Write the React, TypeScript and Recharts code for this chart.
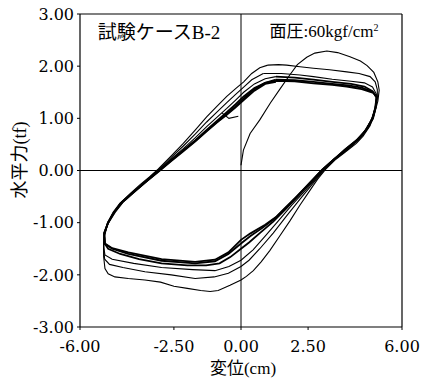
import React from 'react';
import { LineChart, Line, XAxis, YAxis, ReferenceLine } from 'recharts';

type P = [number, number];

const xTicks = [-6, -2.5, 0, 2.5, 6];
const yTicks = [-3, -2, -1, 0, 1, 2, 3];

const loop1: P[] = [[0.0,0.1],[0.09,0.39],[0.34,0.71],[0.7,0.97],[1.1,1.3],[1.45,1.56],[1.83,1.84],[2.1,2.03],[2.45,2.17],[2.75,2.25],[3.2,2.29],[3.6,2.26],[4.06,2.18],[4.45,2.1],[4.7,2.01],[4.95,1.88],[5.1,1.7],[5.15,1.54],[5.1,1.33],[4.98,1.1],[4.81,0.86],[4.55,0.66],[4.3,0.52],[3.9,0.36],[3.5,0.2],[3.15,0.02],[2.85,-0.17],[2.57,-0.38],[2.2,-0.66],[1.83,-0.96],[1.45,-1.25],[1.08,-1.53],[0.75,-1.75],[0.46,-1.92],[0.2,-2.03],[0,-2.1],[-0.41,-2.2],[-0.85,-2.3],[-1.15,-2.32],[-1.5,-2.3],[-2.0,-2.26],[-2.5,-2.22],[-3.0,-2.14],[-3.58,-2.1],[-4.2,-2.07],[-4.7,-2.04],[-4.95,-1.98],[-5.07,-1.88],[-5.12,-1.65],[-5.12,-1.4],[-5.08,-1.2],[-4.97,-1.0],[-4.75,-0.8],[-4.45,-0.6],[-4.1,-0.43],[-3.76,-0.27],[-3.4,-0.12],[-3.08,0.03],[-2.6,0.28],[-2.15,0.52],[-1.7,0.78],[-1.28,1.03],[-0.9,1.23],[-0.53,1.42],[-0.2,1.57],[0.1,1.7],[0.4,1.86],[0.7,1.97],[1.0,2.02]];

const loop2: P[] = [[1.0,2.02],[1.4,2.03],[1.7,2.02],[2.2,1.99],[2.7,1.96],[3.3,1.93],[3.94,1.89],[4.4,1.86],[4.81,1.8],[5.0,1.7],[5.08,1.55],[5.08,1.4],[5.0,1.2],[4.88,1.0],[4.65,0.78],[4.35,0.6],[3.95,0.42],[3.55,0.24],[3.2,0.06],[2.95,-0.08],[2.6,-0.3],[2.2,-0.55],[1.7,-0.87],[1.2,-1.2],[0.7,-1.5],[0.3,-1.72],[0,-1.84],[-0.47,-1.97],[-1.0,-2.04],[-1.71,-2.07],[-2.6,-2.0],[-3.58,-1.94],[-4.4,-1.86],[-4.9,-1.8],[-5.08,-1.7],[-5.12,-1.5],[-5.1,-1.28],[-4.98,-1.05],[-4.78,-0.84],[-4.5,-0.63],[-4.1,-0.44],[-3.76,-0.29],[-3.4,-0.13],[-3.06,0.02],[-2.6,0.25],[-2.15,0.47],[-1.7,0.7],[-1.28,0.93],[-0.9,1.12],[-0.53,1.3],[-0.2,1.46],[0.1,1.6],[0.4,1.74],[0.83,1.86]];

const loop3: P[] = [[0.83,1.86],[1.5,1.86],[2.2,1.83],[2.7,1.8],[3.4,1.75],[4.1,1.71],[4.6,1.68],[4.9,1.6],[5.06,1.45],[5.05,1.3],[4.95,1.1],[4.82,0.93],[4.55,0.72],[4.25,0.56],[3.85,0.4],[3.45,0.21],[3.1,0.03],[2.8,-0.15],[2.4,-0.38],[1.9,-0.66],[1.4,-0.96],[0.9,-1.26],[0.45,-1.52],[0,-1.72],[-0.45,-1.84],[-0.97,-1.92],[-1.8,-1.9],[-2.96,-1.86],[-4.0,-1.78],[-4.8,-1.7],[-5.07,-1.62],[-5.12,-1.45],[-5.1,-1.25],[-4.97,-1.02],[-4.77,-0.82],[-4.5,-0.63],[-4.1,-0.45],[-3.76,-0.3],[-3.4,-0.14],[-3.04,0.02],[-2.6,0.22],[-2.15,0.42],[-1.7,0.63],[-1.28,0.84],[-0.9,1.02],[-0.53,1.19],[-0.2,1.35],[0.1,1.5],[0.5,1.66],[0.9,1.76],[1.3,1.8]];

const loop4: P[] = [[1.3,1.8],[2.0,1.78],[2.7,1.74],[3.4,1.7],[4.1,1.66],[4.6,1.61],[4.9,1.52],[5.05,1.4],[5.0,1.2],[4.9,1.0],[4.65,0.77],[4.35,0.6],[3.95,0.43],[3.5,0.23],[3.1,0.04],[2.7,-0.18],[2.2,-0.45],[1.7,-0.72],[1.2,-0.98],[0.7,-1.2],[0.3,-1.38],[0,-1.5],[-0.4,-1.66],[-0.8,-1.78],[-1.3,-1.82],[-2.0,-1.82],[-2.96,-1.78],[-3.8,-1.7],[-4.5,-1.6],[-4.95,-1.5],[-5.08,-1.4],[-5.1,-1.22],[-4.96,-1.0],[-4.75,-0.8],[-4.5,-0.63],[-4.1,-0.45],[-3.76,-0.31],[-3.4,-0.15],[-3.02,0.02],[-2.6,0.2],[-2.15,0.39],[-1.7,0.58],[-1.28,0.78],[-0.9,0.95],[-0.53,1.12],[-0.2,1.27],[0.1,1.42],[0.5,1.58],[0.9,1.68],[1.3,1.74]];

const loop5: P[] = [[1.3,1.74],[2.0,1.73],[2.7,1.7],[3.4,1.66],[4.0,1.63],[4.5,1.59],[4.9,1.51],[5.06,1.42],[5.02,1.22],[4.91,1.0],[4.68,0.79],[4.38,0.6],[3.96,0.41],[3.46,0.21],[3.04,0.02],[2.6,-0.22],[2.1,-0.49],[1.7,-0.7],[1.3,-0.9],[0.8,-1.1],[0.34,-1.26],[0,-1.4],[-0.47,-1.6],[-0.97,-1.74],[-1.71,-1.78],[-2.96,-1.73],[-4.2,-1.6],[-4.8,-1.5],[-5.07,-1.41],[-5.1,-1.2],[-4.95,-1.0],[-4.72,-0.8],[-4.42,-0.61],[-4.02,-0.43],[-3.6,-0.24],[-3.02,0.01],[-2.6,0.19],[-2.15,0.38],[-1.7,0.57],[-1.28,0.76],[-0.9,0.93],[-0.53,1.09],[-0.2,1.23],[0.1,1.38],[0.5,1.56],[0.9,1.68],[1.3,1.72]];

const loop6: P[] = [[1.3,1.72],[2.0,1.71],[2.7,1.67],[3.4,1.64],[3.94,1.61],[4.5,1.56],[4.93,1.49],[5.06,1.4],[5.02,1.21],[4.92,1.0],[4.7,0.8],[4.4,0.6],[3.95,0.4],[3.44,0.2],[3.0,0.0],[2.5,-0.27],[2.07,-0.5],[1.7,-0.69],[1.33,-0.88],[0.9,-1.04],[0.34,-1.21],[0,-1.33],[-0.47,-1.57],[-0.97,-1.71],[-1.71,-1.75],[-2.96,-1.7],[-4.2,-1.57],[-4.8,-1.49],[-5.07,-1.4],[-5.1,-1.2],[-4.95,-1.0],[-4.7,-0.8],[-4.4,-0.6],[-4.0,-0.42],[-3.6,-0.24],[-3.0,0.01],[-2.6,0.18],[-2.15,0.37],[-1.7,0.56],[-1.28,0.75],[-0.9,0.92],[-0.53,1.07],[-0.2,1.21],[0.1,1.35],[0.5,1.53],[0.9,1.66],[1.3,1.7]];

const hook: P[] = [[-0.7,1.1],[-0.45,1.0],[-0.1,1.04]];

const loops: P[][] = [loop1, loop2, loop3, loop4, loop5, loop6, hook];

const serif = '"Liberation Serif", "Noto Sans CJK JP", serif';
const tickFont = { fontSize: 16, fontFamily: '"DejaVu Serif", serif', fill: '#000' };

export default function App() {
  return (
    <div style={{ position: 'absolute', left: 0, top: 0, background: '#fff' }}>
      <LineChart width={425} height={379} margin={{ top: 14, right: 23, bottom: 22, left: 0 }}>
        <XAxis
          dataKey="x"
          type="number"
          domain={[-6, 6]}
          ticks={xTicks}
          interval={0}
          allowDataOverflow
          height={30}
          tickSize={3}
          tickMargin={11}
          tickFormatter={(v: number) => v.toFixed(2)}
          tick={tickFont}
          axisLine={{ stroke: '#000', strokeWidth: 1.2 }}
          tickLine={{ stroke: '#000' }}
        />
        <YAxis
          type="number"
          domain={[-3, 3]}
          ticks={yTicks}
          interval={0}
          allowDataOverflow
          width={80}
          tickSize={3}
          tickMargin={3}
          tickFormatter={(v: number) => v.toFixed(2)}
          tick={tickFont}
          axisLine={{ stroke: '#000', strokeWidth: 1.2 }}
          tickLine={{ stroke: '#000' }}
        />
        <ReferenceLine y={3} stroke="#000" strokeWidth={1.2} />
        <ReferenceLine x={6} stroke="#000" strokeWidth={1.2} />
        <ReferenceLine y={0} stroke="#000" strokeWidth={1} />
        <ReferenceLine x={0} stroke="#000" strokeWidth={1} />
        {loops.map((lp, i) => (
          <Line
            key={i}
            data={lp.map(([x, y]) => ({ x, y }))}
            dataKey="y"
            type="linear"
            stroke="#000"
            strokeWidth={i >= 3 && i <= 5 ? 1.8 : 1.1}
            dot={false}
            activeDot={false}
            isAnimationActive={false}
          />
        ))}
        <text x={159} y={39} textAnchor="middle" fontSize={19} fontFamily={serif} fill="#000">
          試験ケースB-2
        </text>
        <text x={324} y={37} textAnchor="middle" fontSize={17} fontFamily={serif} fill="#000">
          面圧:60kgf/cm<tspan dy={-6} fontSize={10}>2</tspan>
        </text>
        <text x={243} y={374} textAnchor="middle" fontSize={17} fontFamily={serif} fill="#000">
          変位(cm)
        </text>
        <text
          x={22}
          y={160}
          transform="rotate(-90 22 160)"
          textAnchor="middle"
          dominantBaseline="middle"
          fontSize={18}
          fontFamily={serif}
          fill="#000"
        >
          水平力(tf)
        </text>
      </LineChart>
    </div>
  );
}
